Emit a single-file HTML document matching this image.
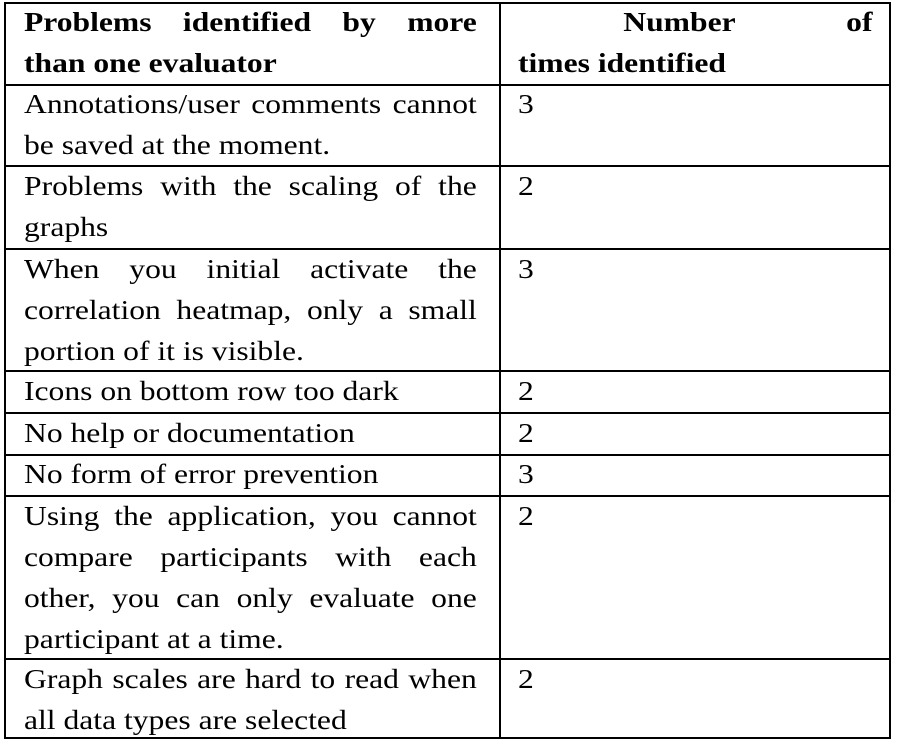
<!DOCTYPE html>
<html><head><style>
body{margin:0;background:#fff;width:900px;height:744px;overflow:hidden;}
.t{position:absolute;left:4px;top:2px;width:887px;height:737px;border:2.5px solid #000;box-sizing:border-box;}
.h{position:absolute;left:0;right:0;height:0;border-top:2.5px solid #000;}
.v{position:absolute;left:493px;top:0;bottom:0;border-left:2.5px solid #000;}
.c,.n{position:absolute;font-family:"Liberation Serif",serif;font-size:27px;line-height:41px;color:#000;white-space:nowrap;transform:scaleX(1.17);transform-origin:0 0;}
.c{left:24px;width:387px;}
.n{left:518px;width:303px;}
.c div,.n div{text-align:left;}
.c div.j,.n div.j{text-align:justify;text-align-last:justify;}
.b{font-weight:bold;}
</style></head><body>
<div class="t">
<div class="v"></div>
<div class="h" style="top:80px"></div>
<div class="h" style="top:161px"></div>
<div class="h" style="top:244px"></div>
<div class="h" style="top:366px"></div>
<div class="h" style="top:408px"></div>
<div class="h" style="top:450px"></div>
<div class="h" style="top:491px"></div>
<div class="h" style="top:654px"></div>
</div>
<div class="c b" style="top:2px"><div class="j">Problems identified by more</div><div>than one evaluator</div></div>
<div class="n b" style="top:2px"><div class="j" style="padding-left:90px">Number of</div><div>times identified</div></div>
<div class="c" style="top:84px"><div class="j">Annotations/user comments cannot</div><div>be saved at the moment.</div></div>
<div class="n" style="top:84px">3</div>
<div class="c" style="top:166px"><div class="j">Problems with the scaling of the</div><div>graphs</div></div>
<div class="n" style="top:166px">2</div>
<div class="c" style="top:249px"><div class="j">When you initial activate the</div><div class="j">correlation heatmap, only a small</div><div>portion of it is visible.</div></div>
<div class="n" style="top:249px">3</div>
<div class="c" style="top:371px">Icons on bottom row too dark</div>
<div class="n" style="top:371px">2</div>
<div class="c" style="top:413px">No help or documentation</div>
<div class="n" style="top:413px">2</div>
<div class="c" style="top:454px">No form of error prevention</div>
<div class="n" style="top:454px">3</div>
<div class="c" style="top:496px"><div class="j">Using the application, you cannot</div><div class="j">compare participants with each</div><div class="j">other, you can only evaluate one</div><div>participant at a time.</div></div>
<div class="n" style="top:496px">2</div>
<div class="c" style="top:659px"><div class="j">Graph scales are hard to read when</div><div>all data types are selected</div></div>
<div class="n" style="top:659px">2</div>
</body></html>
